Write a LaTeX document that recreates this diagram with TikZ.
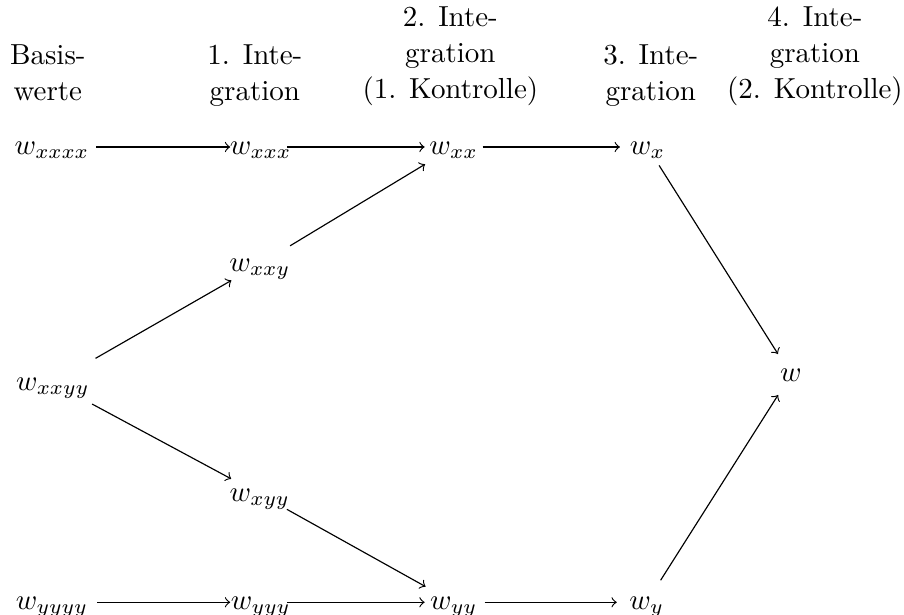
\documentclass[tikz,border=0pt]{standalone}
\usetikzlibrary{positioning}
\tikzset{>=to}

\begin{document}
\begin{tikzpicture}[
    font=\fontsize{10}{12.4}\selectfont,
    kopf/.style={anchor=north, align=center, inner sep=0pt},
    wert/.style={anchor=base, inner sep=0pt, text height=7pt, text depth=2pt},
    pfeil/.style 2 args={->, shorten <=#1, shorten >=#2},
  ]
  \useasboundingbox (0,0) rectangle (10.96,7.45);
  \node[kopf] (k0) at (0.58,6.91) {Basis-\\werte};
  \node[kopf] (k1) at (3.09,6.91) {1. Inte-\\gration};
  \node[kopf] (k2) at (5.46,7.37) {2. Inte-\\gration\\(1. Kontrolle)};
  \node[kopf] (k3) at (7.89,6.91) {3. Inte-\\gration};
  \node[kopf] (k4) at (9.88,7.37) {4. Inte-\\gration\\(2. Kontrolle)};
  \node[wert] (xxxx) at (0.63,5.58) {$w_{xxxx}$};
  \node[wert] (xxx)  at (3.16,5.58) {$w_{xxx}$};
  \node[wert] (xx)   at (5.50,5.58) {$w_{xx}$};
  \node[wert] (x)    at (7.85,5.58) {$w_{x}$};
  \node[wert] (xxy)  at (3.15,4.16) {$w_{xxy}$};
  \node[wert] (xxyy) at (0.64,2.72) {$w_{xxyy}$};
  \node[wert] (w)    at (9.59,2.82) {$w$};
  \node[wert] (xyy)  at (3.15,1.37) {$w_{xyy}$};
  \node[wert] (yyyy) at (0.63,0.06) {$w_{yyyy}$};
  \node[wert] (yyy)  at (3.16,0.06) {$w_{yyy}$};
  \node[wert] (yy)   at (5.50,0.06) {$w_{yy}$};
  \node[wert] (y)    at (7.84,0.06) {$w_{y}$};
  \draw[pfeil={15.3pt}{10.5pt}] (xxxx.center) -- (xxx.center);
  \draw[pfeil={9.1pt}{10pt}]    (xxx.center) -- (xx.center);
  \draw[pfeil={10pt}{9.5pt}]    (xx.center) -- (x.center);
  \draw[pfeil={17pt}{11.3pt}]   (xxyy.center) -- (xxy.center);
  \draw[pfeil={12.2pt}{11.5pt}] (xxy.center) -- (xx.center);
  \draw[pfeil={15.4pt}{11.2pt}] (xxyy.center) -- (xyy.center);
  \draw[pfeil={10.7pt}{11.1pt}] (xyy.center) -- (yy.center);
  \draw[pfeil={15.7pt}{10.5pt}] (yyyy.center) -- (yyy.center);
  \draw[pfeil={9.1pt}{10pt}]    (yyy.center) -- (yy.center);
  \draw[pfeil={10.7pt}{10.3pt}] (yy.center) -- (y.center);
  \draw[pfeil={7.5pt}{8.4pt}]   (x.center) -- (w.center);
  \draw[pfeil={9pt}{8.3pt}]     (y.center) -- (w.center);
\end{tikzpicture}
\end{document}
